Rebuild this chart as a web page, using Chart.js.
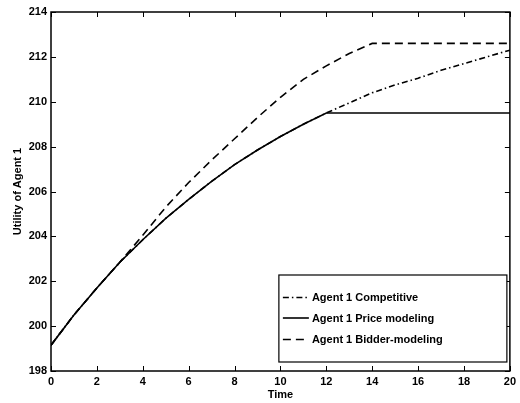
<!DOCTYPE html>
<html>
<head>
<meta charset="utf-8">
<script src="https://cdn.jsdelivr.net/npm/chart.js@4/dist/chart.umd.min.js"></script>
<style>
  html, body { margin: 0; padding: 0; background: #fff; }
  canvas { display: block; }
</style>
</head>
<body>
<canvas id="utilityChart" width="520" height="403"></canvas>
<script>
const ctx = document.getElementById('utilityChart').getContext('2d');

// Time steps and the utility of agent 1 under each strategy
const times = [0, 1, 2, 3, 4, 5, 6, 7, 8, 9, 10, 11, 12, 13, 14, 15, 16, 17, 18, 19, 20];
const competitive = [199.15, 200.5, 201.7, 202.85, 203.85, 204.8, 205.65, 206.45, 207.2, 207.85, 208.45, 209.0, 209.5,
                     209.95, 210.4, 210.75, 211.05, 211.4, 211.7, 212.0, 212.3];
const priceModeling = [199.15, 200.5, 201.7, 202.85, 203.85, 204.8, 205.65, 206.45, 207.2, 207.85, 208.45, 209.0, 209.5,
                       209.5, 209.5, 209.5, 209.5, 209.5, 209.5, 209.5, 209.5];
const bidderModeling = [199.15, 200.5, 201.7, 202.85, 204.05, 205.3, 206.4, 207.4, 208.35, 209.3, 210.2, 211.0, 211.6,
                        212.15, 212.6, 212.6, 212.6, 212.6, 212.6, 212.6, 212.6];
const seriesLabels = ['Agent 1 Competitive', 'Agent 1 Price modeling', 'Agent 1 Bidder-modeling'];
const xTicks = [0, 2, 4, 6, 8, 10, 12, 14, 16, 18, 20];
const yTicks = [198, 200, 202, 204, 206, 208, 210, 212, 214];

const fontFamily = '"Liberation Sans", Arial, Helvetica, sans-serif';

function toPoints(values) {
    return values.map((v, i) => ({ x: times[i], y: v }));
}

// Box around the plot plus matlab-style inward ticks on all four sides
const framePlugin = {
    id: 'frame',
    afterDatasetsDraw(chart) {
        const c = chart.ctx;
        const a = chart.chartArea;
        const xs = chart.scales.x;
        const ys = chart.scales.y;
        const len = 5;
        c.save();
        c.strokeStyle = '#000';
        c.lineWidth = 1;
        c.beginPath();
        xTicks.forEach(t => {
            const px = Math.round(xs.getPixelForValue(t)) + 0.5;
            c.moveTo(px, a.bottom); c.lineTo(px, a.bottom - len);
            c.moveTo(px, a.top); c.lineTo(px, a.top + len);
        });
        yTicks.forEach(t => {
            const py = Math.round(ys.getPixelForValue(t)) + 0.5;
            c.moveTo(a.left, py); c.lineTo(a.left + len, py);
            c.moveTo(a.right, py); c.lineTo(a.right - len, py);
        });
        c.stroke();
        c.lineWidth = 1.5;
        c.strokeRect(a.left, a.top, a.right - a.left, a.bottom - a.top);
        c.restore();
    }
};

// Legend drawn inside the plot, lower right corner
const boxLegendPlugin = {
    id: 'boxLegend',
    afterDraw(chart) {
        const c = chart.ctx;
        const a = chart.chartArea;
        const w = 228, h = 87;
        const left = a.right - 3 - w;
        const top = a.bottom - 9 - h;
        c.save();
        c.fillStyle = '#fff';
        c.fillRect(left, top, w, h);
        c.strokeStyle = '#000';
        c.lineWidth = 1.2;
        c.strokeRect(left, top, w, h);
        const rows = [22.5, 43, 64.5];
        chart.data.datasets.forEach((ds, i) => {
            const y = top + rows[i];
            c.beginPath();
            c.setLineDash(ds.borderDash || []);
            c.lineWidth = ds.borderWidth;
            c.moveTo(left + 4, y);
            c.lineTo(left + 30, y);
            c.stroke();
            c.setLineDash([]);
            c.fillStyle = '#000';
            c.font = 'bold 11px ' + fontFamily;
            c.textBaseline = 'middle';
            c.textAlign = 'left';
            c.fillText(ds.label, left + 33, y + 0.5);
        });
        c.restore();
    }
};

const myChart = new Chart(ctx, {
    type: 'line',
    data: {
        datasets: [
            {
                label: seriesLabels[0],
                data: toPoints(competitive),
                borderColor: '#000',
                borderWidth: 1.6,
                borderDash: [6, 3, 1.5, 3],
                pointRadius: 0,
                fill: false
            },
            {
                label: seriesLabels[1],
                data: toPoints(priceModeling),
                borderColor: '#000',
                borderWidth: 1.6,
                pointRadius: 0,
                fill: false
            },
            {
                label: seriesLabels[2],
                data: toPoints(bidderModeling),
                borderColor: '#000',
                borderWidth: 1.6,
                borderDash: [8, 5],
                pointRadius: 0,
                fill: false
            }
        ]
    },
    options: {
        responsive: false,
        animation: false,
        layout: { padding: { top: 12, right: 9, left: 0, bottom: 0 } },
        plugins: {
            legend: { display: false },
            tooltip: { enabled: false }
        },
        scales: {
            x: {
                type: 'linear',
                min: 0,
                max: 20,
                afterBuildTicks: scale => { scale.ticks = xTicks.map(v => ({ value: v })); },
                afterFit: scale => { scale.height = 32; },
                grid: { display: false, drawTicks: false },
                border: { display: false },
                ticks: {
                    color: '#000',
                    padding: 4,
                    maxRotation: 0,
                    font: { family: fontFamily, size: 11, weight: 'bold' }
                },
                title: {
                    display: true,
                    text: 'Time',
                    color: '#000',
                    padding: { top: 0, bottom: 1 },
                    font: { family: fontFamily, size: 11, weight: 'bold' }
                }
            },
            y: {
                min: 198,
                max: 214,
                afterBuildTicks: scale => { scale.ticks = yTicks.map(v => ({ value: v })); },
                afterFit: scale => { scale.width = 51; },
                grid: { display: false, drawTicks: false },
                border: { display: false },
                ticks: {
                    color: '#000',
                    padding: 4,
                    font: { family: fontFamily, size: 11, weight: 'bold' }
                },
                title: {
                    display: true,
                    text: 'Utility of Agent 1',
                    color: '#000',
                    padding: { top: 11, bottom: 0 },
                    font: { family: fontFamily, size: 11, weight: 'bold' }
                }
            }
        }
    },
    plugins: [framePlugin, boxLegendPlugin]
});
</script>
</body>
</html>
